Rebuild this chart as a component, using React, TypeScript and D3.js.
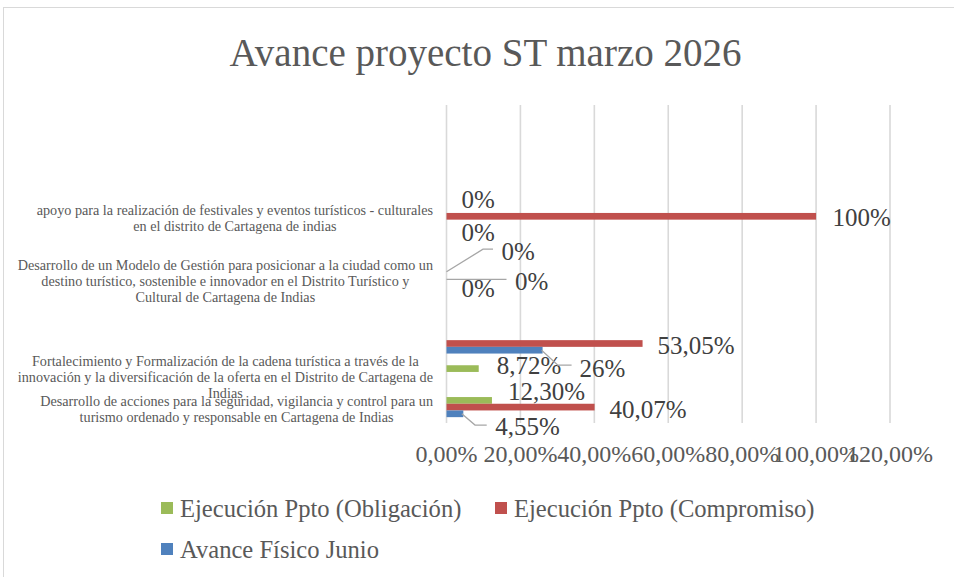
import React, { useEffect, useRef } from "react";
import * as d3 from "d3";

const chartTitle = "Avance proyecto ST marzo 2026";

// rows listed bottom -> top (Excel category order)
const categories: string[] = [
  "Desarrollo de acciones para la seguridad, vigilancia y control para un\nturismo ordenado y responsable en Cartagena de Indias",
  "Fortalecimiento y Formalización de la cadena turística a través de la\ninnovación y la diversificación de la oferta en el Distrito de Cartagena de\nIndias",
  "",
  "",
  "Desarrollo de un Modelo de Gestión para posicionar a la ciudad como un\ndestino turístico, sostenible e innovador en el Distrito Turístico y\nCultural de Cartagena de Indias",
  "",
  "apoyo para la realización de festivales y eventos turísticos - culturales\nen el distrito de Cartagena de indias",
  "",
  "",
  "",
];

const seriesNames = [
  "Ejecución Ppto (Obligación)",
  "Ejecución Ppto (Compromiso)",
  "Avance Físico Junio",
];

const obligacion: (number | null)[] = [0.123, 0.0872, null, null, 0, null, 0, null, null, null];
const compromiso: (number | null)[] = [0.4007, null, 0.5305, null, 0, null, 1, null, null, null];
const avanceFisico: (number | null)[] = [0.0455, null, 0.26, null, 0, null, 0, null, null, null];

const xTicks = [0, 0.2, 0.4, 0.6, 0.8, 1.0, 1.2];

const seriesColors = ["#9BBB59", "#C0504D", "#4F81BD"];

// manual data-label placements (offsets from bar end / bar centre), keyed "series-row"
type Placement = { dx: number; dy: number; leader?: [number, number][] };
const labelPlacement: Record<string, Placement> = {
  "0-6": { dx: 15, dy: -10.6 },
  "1-6": { dx: 16.5, dy: 1.4 },
  "2-6": { dx: 15, dy: 9 },
  "0-4": { dx: 55, dy: -21.6, leader: [[0, -1.4], [36.5, -24], [46.5, -24]] },
  "1-4": { dx: 68.5, dy: 1.7, leader: [[0, -0.5], [60, -0.5]] },
  "2-4": { dx: 15, dy: 1.5 },
  "1-2": { dx: 15, dy: 1.6 },
  "2-2": { dx: 37, dy: 18, leader: [[-1, 0], [15.3, 15], [29, 15]] },
  "0-1": { dx: 18, dy: -3.5 },
  "0-0": { dx: 16, dy: -9.6 },
  "1-0": { dx: 15, dy: 2 },
  "2-0": { dx: 32, dy: 12, leader: [[-1.5, 0], [11.7, 11.3], [23.4, 11.3]] },
};

const W = 954;
const H = 577;
const FONT = "'Liberation Serif', 'Times New Roman', serif";

const locale = d3.formatLocale({ decimal: ",", thousands: ".", grouping: [3], currency: ["", ""] });
const fmtTick = locale.format(".2%");
const fmtLabel = (v: number) =>
  Math.round(v * 10000) % 100 === 0 ? locale.format(".0%")(v) : locale.format(".2%")(v);

export default function App() {
  const ref = useRef<SVGSVGElement | null>(null);

  useEffect(() => {
    const svg = d3.select(ref.current);
    svg.selectAll("*").remove();

    svg.append("rect").attr("x", 0).attr("y", 0).attr("width", W).attr("height", H).attr("fill", "#fff");
    svg
      .append("rect")
      .attr("x", 3.5)
      .attr("y", 7.5)
      .attr("width", 1000)
      .attr("height", 1000)
      .attr("fill", "none")
      .attr("stroke", "#D9D9D9")
      .attr("stroke-width", 1);

    // title
    svg
      .append("text")
      .attr("x", 485.5)
      .attr("y", 66)
      .attr("text-anchor", "middle")
      .attr("font-family", FONT)
      .attr("font-size", 39)
      .attr("fill", "#595959")
      .text(chartTitle);

    const x = d3.scaleLinear().domain([0, 1.2]).range([446.5, 890]);
    const rows = categories.map((_, i) => i);
    const y = d3.scaleBand<number>().domain(rows).range([423, 105]);
    const sub = d3.scaleBand<number>().domain([0, 1, 2]).range([-10.05, 10.05]);
    const rowCenter = (r: number) => (y(r) as number) + y.bandwidth() / 2;

    // gridlines
    svg
      .append("g")
      .selectAll("line")
      .data(xTicks)
      .join("line")
      .attr("x1", (d) => x(d))
      .attr("x2", (d) => x(d))
      .attr("y1", 105)
      .attr("y2", 423)
      .attr("stroke", "#D9D9D9")
      .attr("stroke-width", 1.6);

    // tick labels
    svg
      .append("g")
      .selectAll("text")
      .data(xTicks)
      .join("text")
      .attr("x", (d) => x(d))
      .attr("y", 462)
      .attr("text-anchor", "middle")
      .attr("font-family", FONT)
      .attr("font-size", 24)
      .attr("fill", "#595959")
      .text((d) => fmtTick(d));

    // category labels
    const catG = svg.append("g");
    categories.forEach((label, r) => {
      if (!label) return;
      const lines = label.split("\n");
      const cy = rowCenter(r) + 1.5;
      const lh = 16;
      const texts = lines.map((ln, i) =>
        catG
          .append("text")
          .attr("y", cy - ((lines.length - 1) * lh) / 2 + i * lh)
          .attr("dy", "0.35em")
          .attr("text-anchor", "middle")
          .attr("font-family", FONT)
          .attr("font-size", 14.2)
          .attr("fill", "#595959")
          .text(ln)
      );
      const maxW = d3.max(texts, (t) => (t.node() as SVGTextElement).getComputedTextLength()) || 0;
      texts.forEach((t) => t.attr("x", 433 - maxW / 2));
    });

    // bars
    const seriesData = [obligacion, compromiso, avanceFisico];
    const barG = svg.append("g");
    seriesData.forEach((vals, s) => {
      barG
        .selectAll(`rect.s${s}`)
        .data(vals.map((v, r) => ({ v, r })).filter((d) => d.v !== null))
        .join("rect")
        .attr("class", `s${s}`)
        .attr("x", x(0))
        .attr("y", (d) => rowCenter(d.r) + (sub(s) as number))
        .attr("width", (d) => x(d.v as number) - x(0))
        .attr("height", sub.bandwidth())
        .attr("fill", seriesColors[s]);
    });

    // data labels
    const lblG = svg.append("g");
    seriesData.forEach((vals, s) => {
      vals.forEach((v, r) => {
        if (v === null) return;
        const p = labelPlacement[`${s}-${r}`] || { dx: 15, dy: 1.5 };
        const bx = x(v);
        const by = rowCenter(r) + (sub(s) as number) + sub.bandwidth() / 2;
        if (p.leader) {
          lblG
            .append("path")
            .attr("d", d3.line()(p.leader.map(([a, b]) => [bx + a, by + b] as [number, number])))
            .attr("fill", "none")
            .attr("stroke", "#A6A6A6")
            .attr("stroke-width", 1.3);
        }
        lblG
          .append("text")
          .attr("x", bx + p.dx)
          .attr("y", by + p.dy)
          .attr("dy", "0.35em")
          .attr("font-family", FONT)
          .attr("font-size", 25)
          .attr("fill", "#404040")
          .text(fmtLabel(v));
      });
    });

    // legend
    const legendPos = [
      { x: 161, y: 508 },
      { x: 495, y: 508 },
      { x: 161, y: 549 },
    ];
    const legG = svg.append("g");
    seriesNames.forEach((name, i) => {
      const p = legendPos[i];
      legG
        .append("rect")
        .attr("x", p.x)
        .attr("y", p.y - 6)
        .attr("width", 12)
        .attr("height", 12)
        .attr("fill", seriesColors[i]);
      legG
        .append("text")
        .attr("x", p.x + 19)
        .attr("y", p.y)
        .attr("dy", "0.35em")
        .attr("font-family", FONT)
        .attr("font-size", 24.6)
        .attr("fill", "#595959")
        .text(name);
    });
  }, []);

  return (
    <svg
      ref={ref}
      width={W}
      height={H}
      style={{ position: "absolute", left: 0, top: 0, display: "block" }}
    />
  );
}
